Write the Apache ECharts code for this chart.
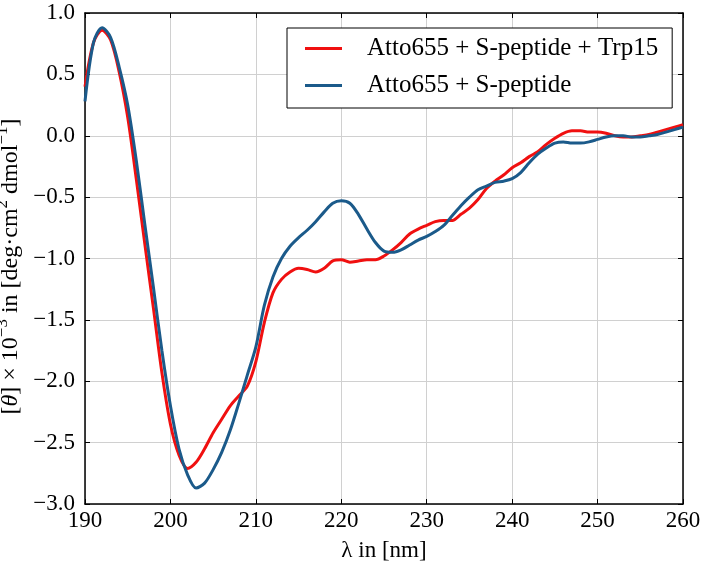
<!DOCTYPE html>
<html>
<head>
<meta charset="utf-8">
<script src="https://cdn.jsdelivr.net/npm/echarts@6/dist/echarts.min.js"></script>
<style>html,body{margin:0;padding:0;background:#fff}#c{width:706px;height:566px}</style>
</head>
<body>
<div id="c"></div>
<script>
const wavelength = [190,191,192,193,194,195,196,197,198,199,200,201,202,203,204,205,206,207,208,209,210,211,212,213,214,215,216,217,218,219,220,221,222,223,224,225,226,227,228,229,230,231,232,233,234,235,236,237,238,239,240,241,242,243,244,245,246,247,248,249,250,251,252,253,254,255,256,257,258,259,260];
const trp15 = [0.40,0.76,0.86,0.78,0.52,0.15,-0.35,-0.88,-1.40,-1.93,-2.35,-2.60,-2.71,-2.66,-2.55,-2.42,-2.31,-2.20,-2.12,-2.04,-1.84,-1.52,-1.28,-1.17,-1.11,-1.08,-1.09,-1.11,-1.08,-1.02,-1.01,-1.03,-1.02,-1.01,-1.01,-0.98,-0.93,-0.87,-0.80,-0.76,-0.73,-0.70,-0.69,-0.69,-0.64,-0.59,-0.52,-0.43,-0.37,-0.32,-0.26,-0.22,-0.17,-0.13,-0.07,-0.02,0.02,0.04,0.04,0.03,0.03,0.02,0.00,-0.01,-0.01,0.00,0.01,0.03,0.05,0.07,0.09];
const speptide = [0.28,0.76,0.88,0.80,0.56,0.25,-0.20,-0.72,-1.23,-1.75,-2.20,-2.55,-2.76,-2.87,-2.83,-2.72,-2.58,-2.40,-2.18,-1.95,-1.72,-1.38,-1.15,-1.00,-0.90,-0.83,-0.77,-0.70,-0.62,-0.55,-0.53,-0.55,-0.64,-0.76,-0.87,-0.94,-0.95,-0.93,-0.89,-0.85,-0.82,-0.78,-0.73,-0.65,-0.57,-0.50,-0.44,-0.41,-0.38,-0.37,-0.35,-0.30,-0.22,-0.15,-0.10,-0.06,-0.05,-0.06,-0.06,-0.05,-0.03,-0.01,0.00,0.00,-0.01,-0.01,0.00,0.01,0.03,0.05,0.07];
const seriesNames = ['Atto655 + S-peptide + Trp15', 'Atto655 + S-peptide'];
const xTicks = [190,200,210,220,230,240,250,260];
const yTicks = [-3.0,-2.5,-2.0,-1.5,-1.0,-0.5,0.0,0.5,1.0];

const FONT = 'Liberation Serif';
const chart = echarts.init(document.getElementById('c'), null, {renderer: 'canvas'});
const pairs = (ys) => wavelength.map((x, i) => [x, ys[i]]);
const fmtY = v => (v < 0 ? '\u2212' : '') + Math.abs(v).toFixed(1);

const axisCommon = {
  axisLine: {show: true, onZero: false, lineStyle: {color: '#000', width: 1.5}},
  axisTick: {show: true, inside: true, length: 5, lineStyle: {color: '#000', width: 1}},
};

chart.setOption({
  animation: false,
  backgroundColor: '#fff',
  grid: {left: 85, right: 23, top: 13, bottom: 62, containLabel: false, outerBoundsMode: 'none'},
  legend: {
    data: seriesNames,
    orient: 'vertical',
    left: 287, top: 28,
    padding: [8, 14, 10, 18],
    itemWidth: 37, itemHeight: 3, itemGap: 12,
    icon: 'rect',
    backgroundColor: '#fff',
    borderColor: '#000', borderWidth: 1, borderRadius: 0,
    textStyle: {fontFamily: FONT, fontSize: 25, color: '#000', padding: [0, 0, 0, 20], lineHeight: 24}
  },
  xAxis: [
    Object.assign({}, axisCommon, {
      type: 'value', min: 190, max: 260, interval: 10, position: 'bottom',
      name: '\u03bb in [nm]', nameLocation: 'middle', nameGap: 35,
      nameTextStyle: {fontFamily: FONT, fontSize: 23, color: '#000'},
      axisLabel: {fontFamily: FONT, fontSize: 23, color: '#000', margin: 5},
      splitLine: {show: true, lineStyle: {color: '#d0d0d0', width: 1}}
    }),
    Object.assign({}, axisCommon, {
      type: 'value', min: 190, max: 260, interval: 10, position: 'top',
      axisLabel: {show: false}, splitLine: {show: false}
    })
  ],
  yAxis: [
    Object.assign({}, axisCommon, {
      type: 'value', min: -3, max: 1, interval: 0.5, position: 'left',
      name: '{a|[}{i|\u03b8}{a|] \u00d7 10}{s|\u22123}{a| in [deg\u00b7cm}{s|2}{a| dmol}{s|\u22121}{a|]}',
      nameLocation: 'middle', nameGap: 52,
      nameTextStyle: {
        fontFamily: FONT, fontSize: 24, color: '#000', padding: [0, 16, 0, 0],
        rich: {
          a: {fontFamily: FONT, fontSize: 24, color: '#000', lineHeight: 28, verticalAlign: 'bottom'},
          i: {fontFamily: FONT, fontSize: 24, fontStyle: 'italic', color: '#000', lineHeight: 28, verticalAlign: 'bottom'},
          s: {fontFamily: FONT, fontSize: 17, color: '#000', lineHeight: 28, verticalAlign: 'top'}
        }
      },
      axisLabel: {fontFamily: FONT, fontSize: 23, color: '#000', margin: 10, formatter: fmtY},
      splitLine: {show: true, lineStyle: {color: '#d0d0d0', width: 1}}
    }),
    Object.assign({}, axisCommon, {
      type: 'value', min: -3, max: 1, interval: 0.5, position: 'right',
      axisLabel: {show: false}, splitLine: {show: false}
    })
  ],
  series: [
    {name: seriesNames[0], type: 'line', data: pairs(trp15), showSymbol: false, smooth: 0.3,
     lineStyle: {color: '#f01010', width: 3}, itemStyle: {color: '#f01010'}, z: 3},
    {name: seriesNames[1], type: 'line', data: pairs(speptide), showSymbol: false, smooth: 0.3,
     lineStyle: {color: '#1b5a8a', width: 3}, itemStyle: {color: '#1b5a8a'}, z: 4}
  ]
});
</script>
</body>
</html>
